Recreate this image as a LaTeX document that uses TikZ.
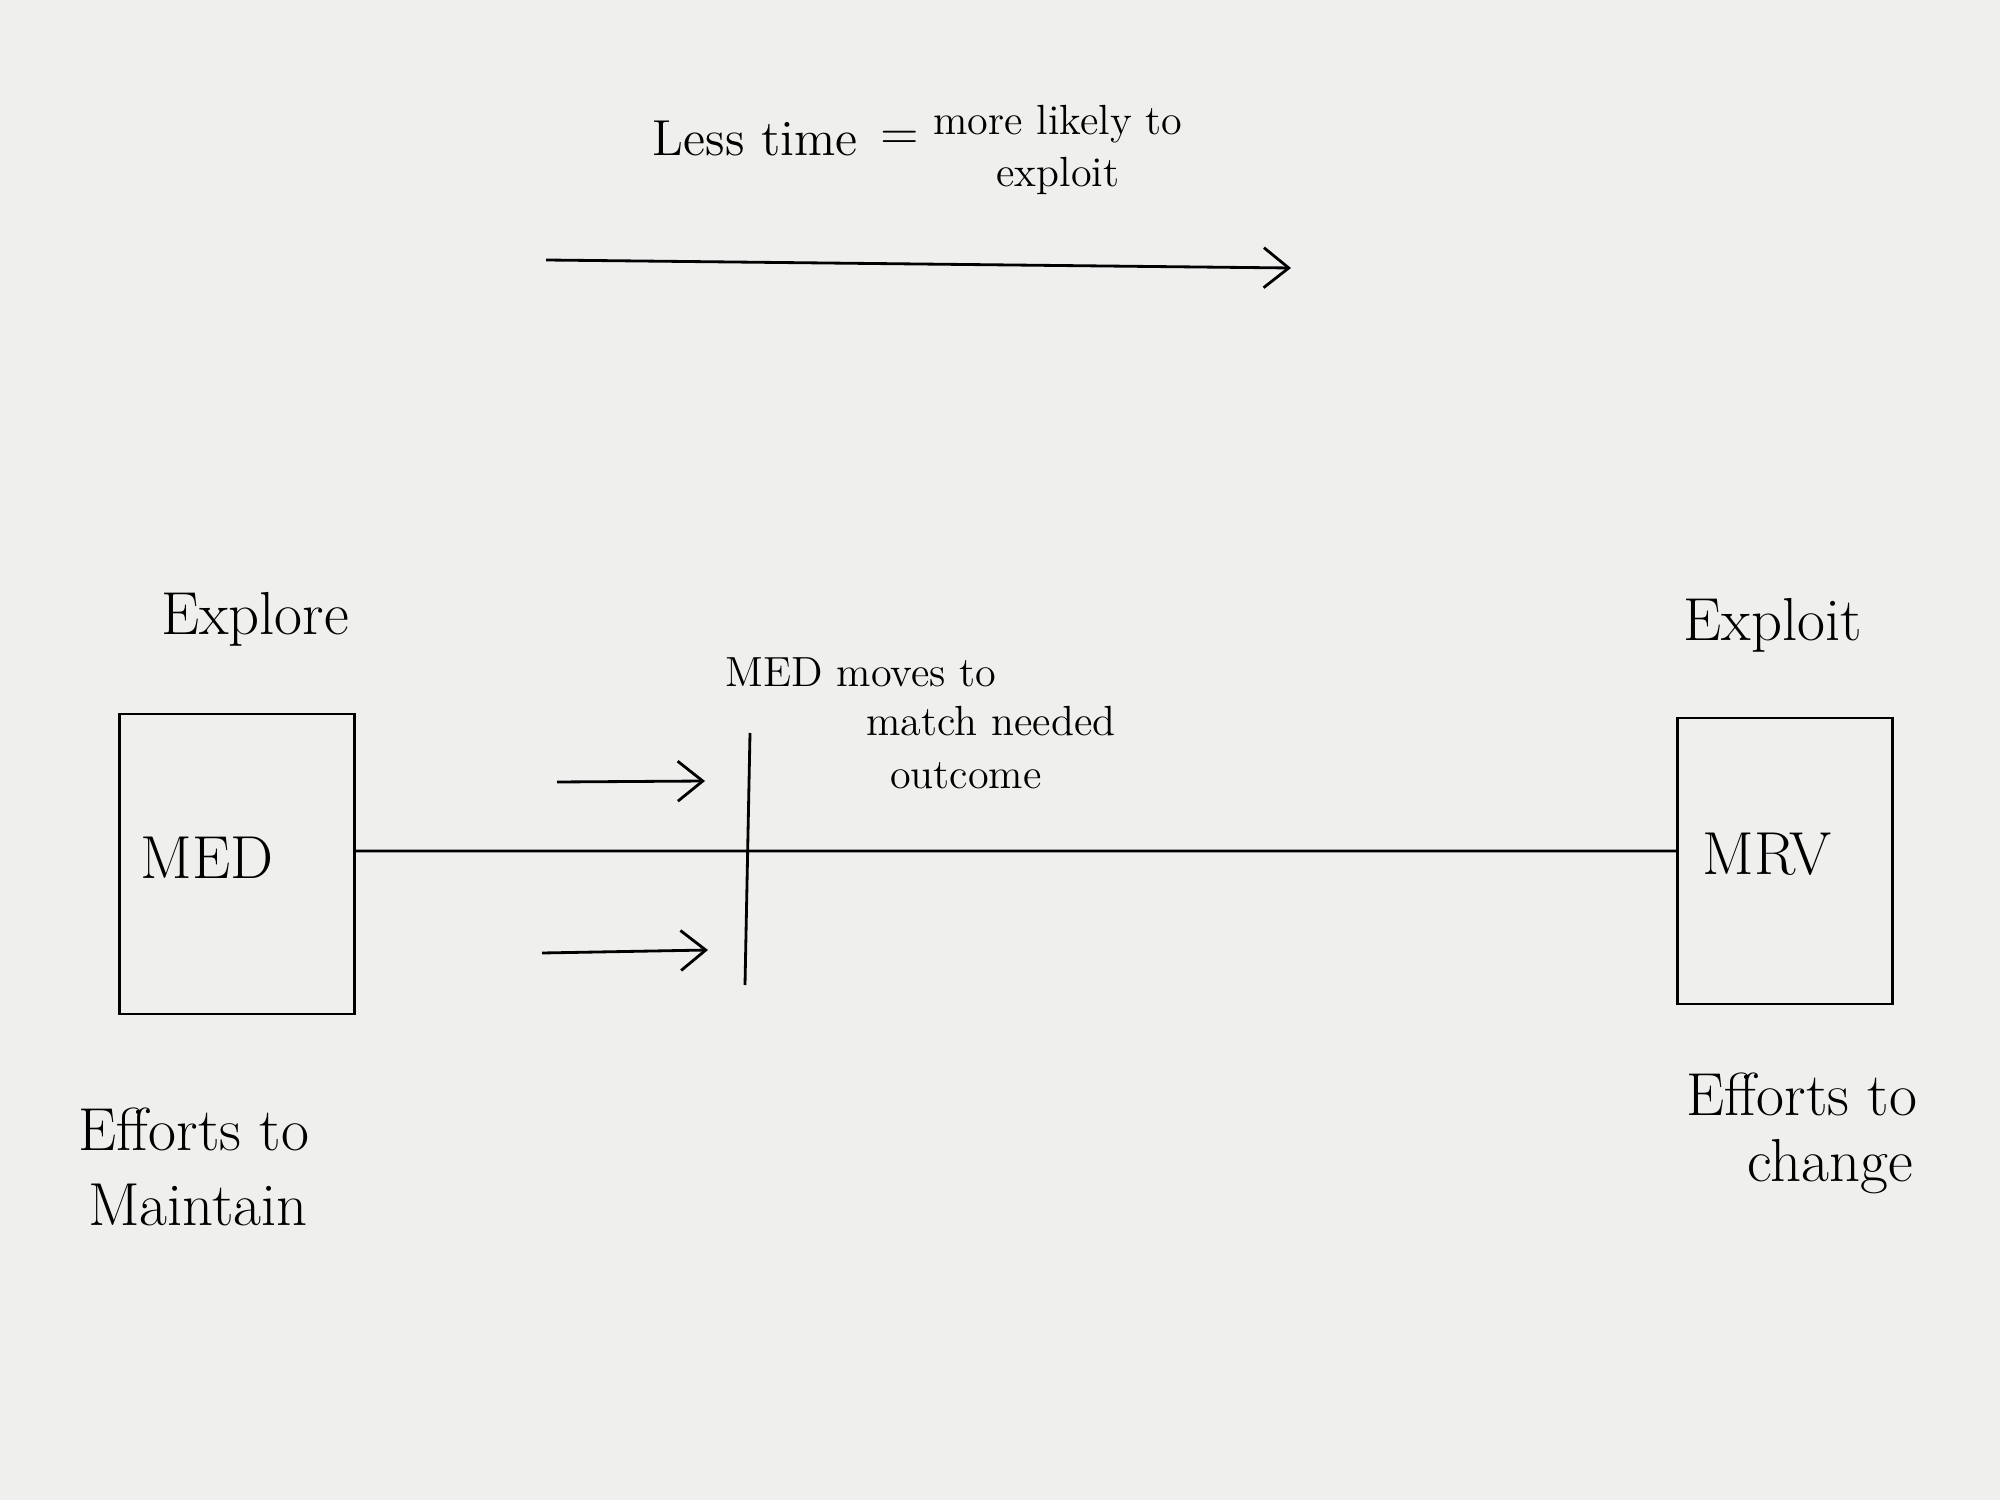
\documentclass[tikz,border=0pt]{standalone}
\usetikzlibrary{arrows.meta}
\definecolor{paper}{RGB}{239,240,238}
\begin{document}
\begin{tikzpicture}[
    txt/.style={font=\LARGE, inner sep=1pt},
    small/.style={font=\large, inner sep=1pt},
    box/.style={draw, thick, minimum width=2.35cm, minimum height=3cm},
    arr/.style={-{Straight Barb[length=2.5mm, width=4mm]}, thick}
  ]
    \fill [paper] (0, 0) rectangle (20, 15);
    \useasboundingbox (0, 0) rectangle (20, 15);

    \node [txt, font=\Large] (t1) at (7.55, 13.62) {Less time};
    \node [txt, font=\Large] (t2) at (9.00, 13.60) {$=$};
    \node [small, align=center] (t3) at (10.58, 13.50) {more likely to\\[1pt]exploit};

    \coordinate (a1) at (5.46, 12.40);
    \coordinate (a2) at (12.91, 12.32);
    \draw [arr] (a1) to (a2);

    \node [txt] (3) at (2.55, 8.81) {Explore};
    \node [box] (0) at (2.37, 6.36) {};
    \node [txt] (m0) at (2.07, 6.42) {MED};
    \node [txt] (4) at (1.94, 3.71) {Efforts to};
    \node [txt] (5) at (1.98, 2.95) {Maintain};

    \node [txt] (6) at (17.73, 8.75) {Exploit};
    \node [box, minimum width=2.15cm, minimum height=2.86cm] (1) at (17.85, 6.39) {};
    \node [txt] (m1) at (17.67, 6.46) {MRV};
    \node [txt] (7) at (18.02, 4.06) {Efforts to};
    \node [txt] (8) at (18.30, 3.33) {change};

    \draw [thick] ([yshift=1.3mm]0.east) to ([yshift=1mm]1.west);

    \coordinate (v1) at (7.50, 7.67);
    \coordinate (v2) at (7.45, 5.15);
    \draw [thick] (v1) to (v2);

    \coordinate (b1) at (5.57, 7.18);
    \coordinate (b2) at (7.05, 7.19);
    \draw [arr] (b1) to (b2);
    \coordinate (b3) at (5.42, 5.47);
    \coordinate (b4) at (7.08, 5.50);
    \draw [arr] (b3) to (b4);

    \node [small] (9) at (8.61, 8.28) {MED moves to};
    \node [small] (10) at (9.91, 7.79) {match needed};
    \node [small] (11) at (9.66, 7.24) {outcome};

  \end{tikzpicture}
\end{document}
